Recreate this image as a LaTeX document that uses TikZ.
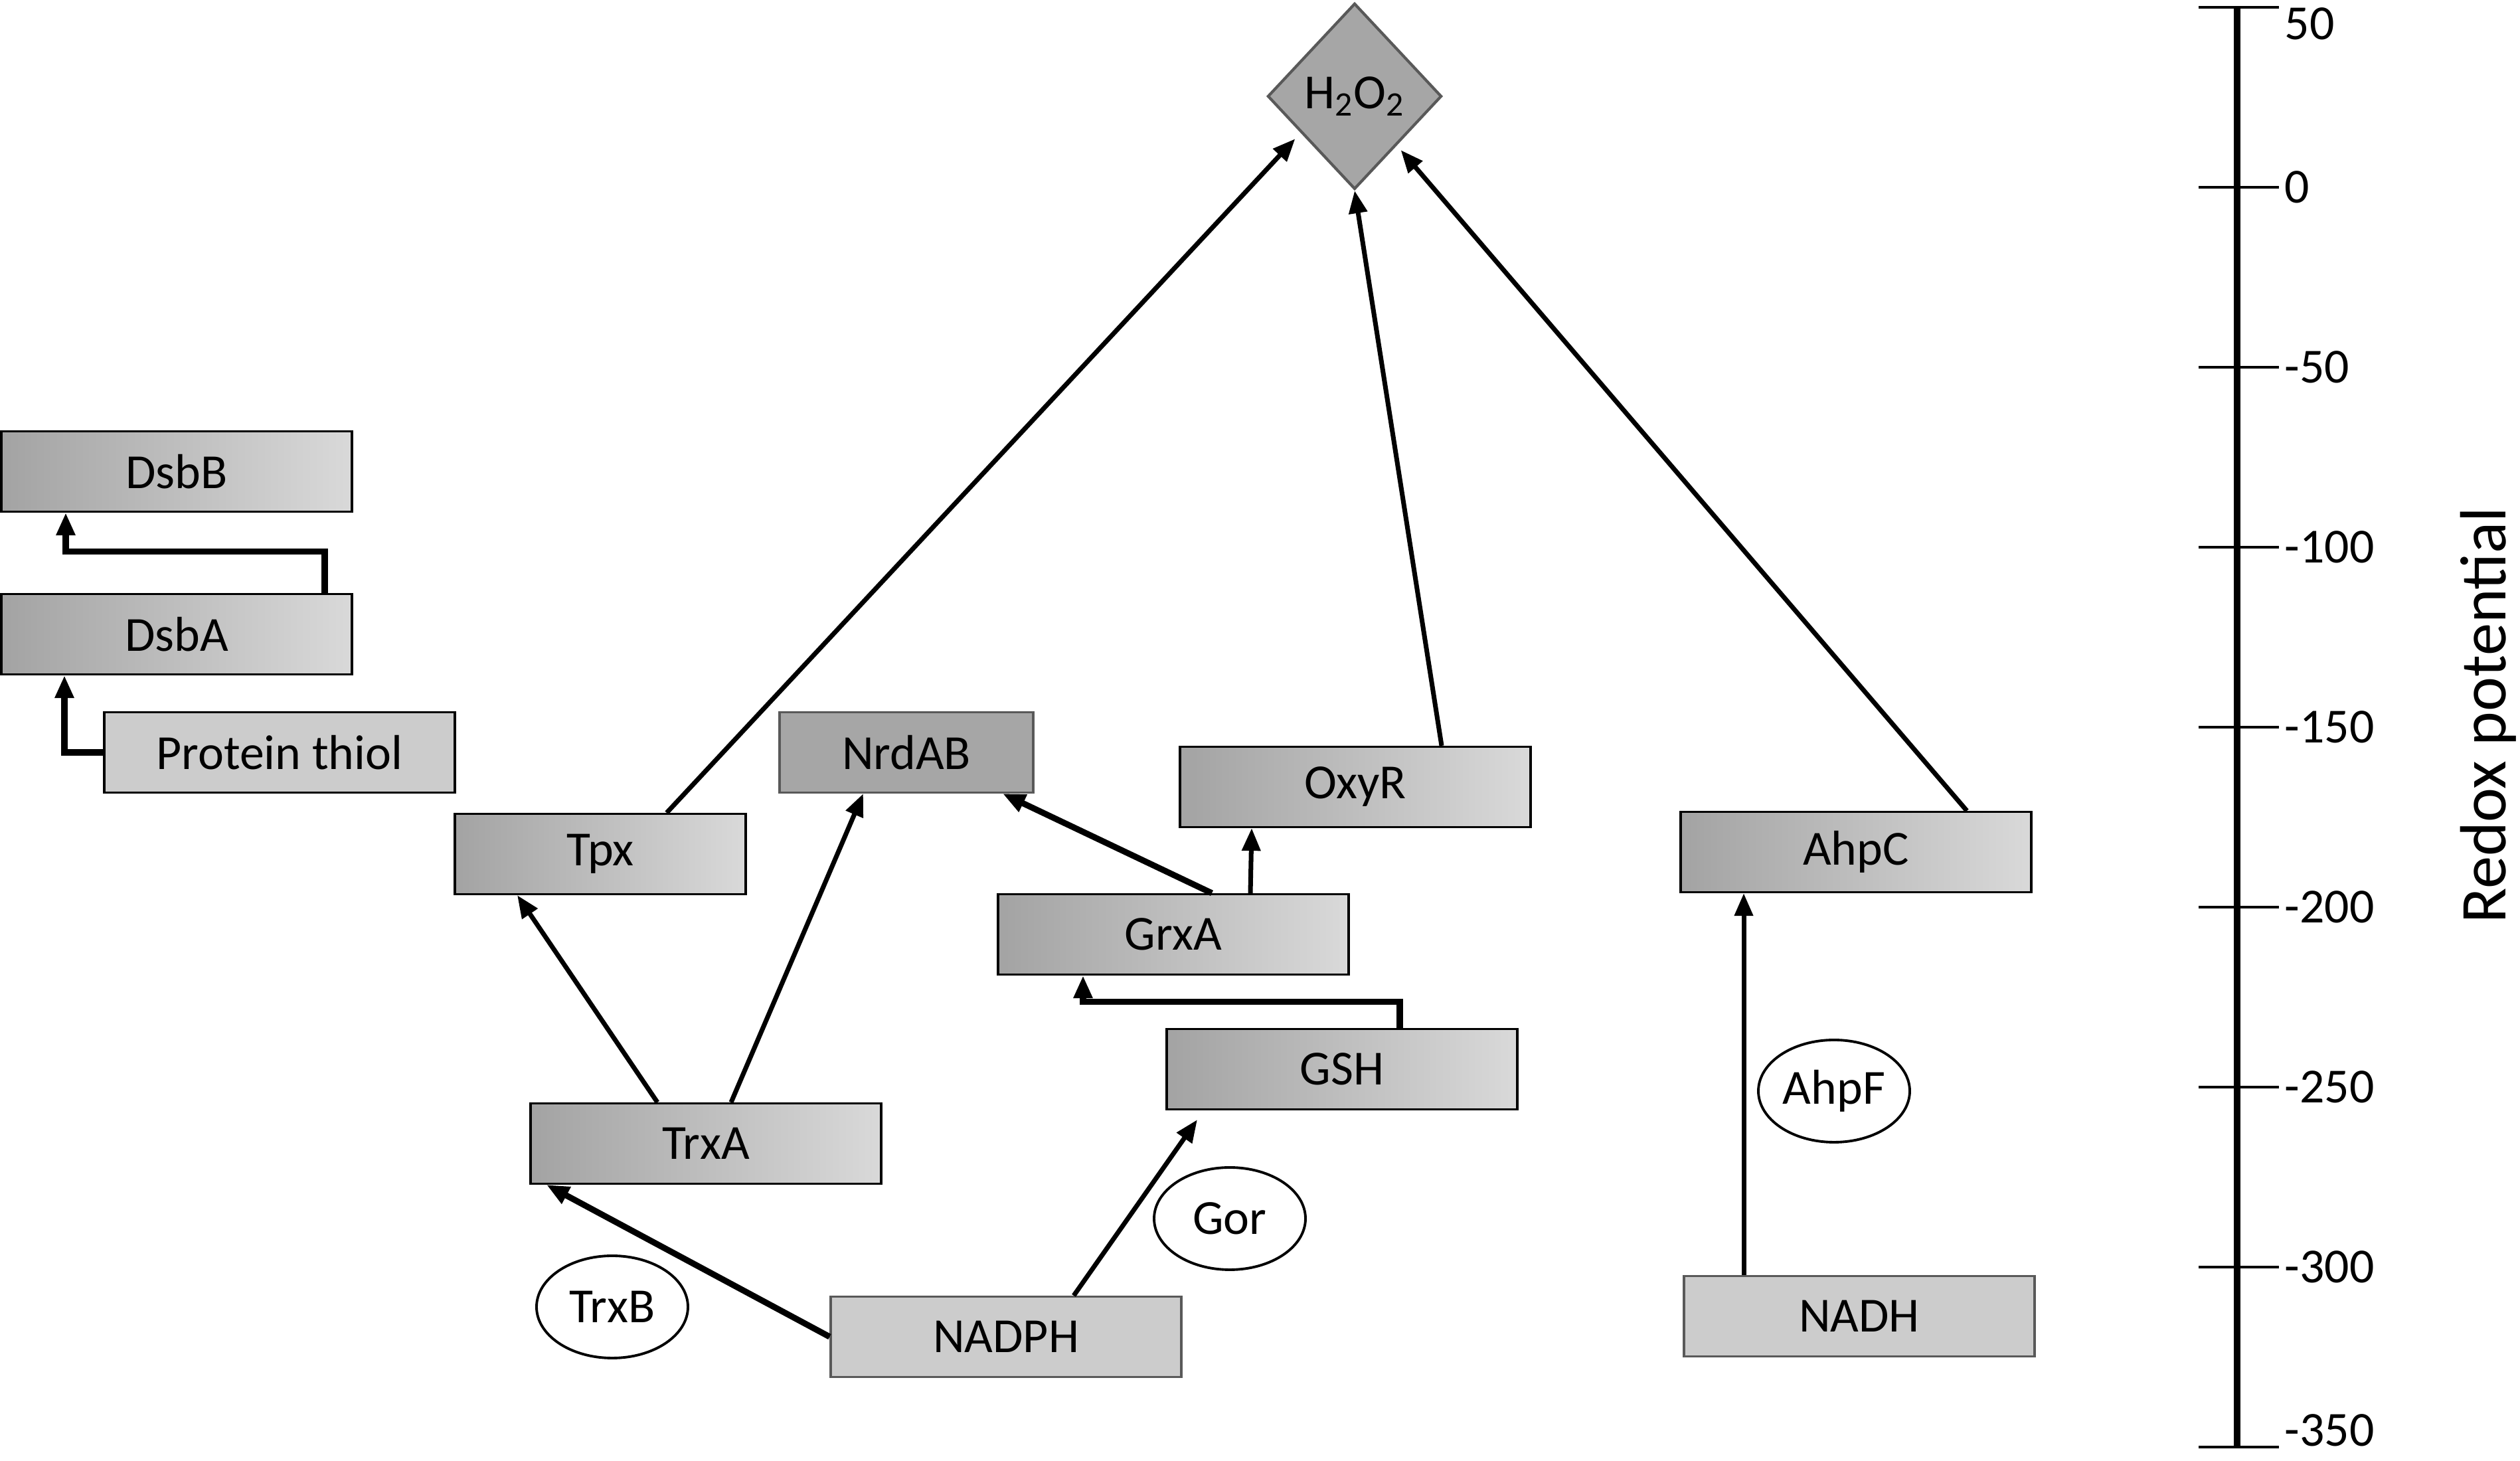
\documentclass[tikz,border=0pt]{standalone}
\usepackage{fontspec}
\setmainfont{Carlito}
\usetikzlibrary{shapes.geometric, arrows.meta}
\definecolor{boxdark}{HTML}{A3A3A3}
\definecolor{boxlight}{HTML}{D9D9D9}
\definecolor{flatgray}{HTML}{CCCCCC}
\definecolor{midgray}{HTML}{A6A6A6}
\definecolor{rimgray}{HTML}{595959}

\begin{document}
\begin{tikzpicture}[
	font=\fontsize{21}{25}\selectfont,
	grad/.style={draw=black, line width=0.9pt, left color=boxdark, right color=boxlight, minimum width=5.28cm, minimum height=1.21cm, inner sep=0pt},
	flat/.style={draw=rimgray, line width=0.9pt, fill=flatgray, minimum width=5.28cm, minimum height=1.21cm, inner sep=0pt},
	enzyme/.style={draw, ellipse, line width=1.1pt, fill=white, minimum width=2.28cm, minimum height=1.54cm, inner sep=0pt},
	arr/.style={line width=2pt, -{Triangle[length=0.34cm, width=0.27cm]}},
	fat/.style={line width=2.6pt, -{Triangle[length=0.34cm, width=0.27cm]}}
	]
	\useasboundingbox (0,0) rectangle (37.95,22);
	
	\node[grad] (dsbb) at (2.66,14.90) {DsbB};
	\node[grad] (dsba) at (2.66,12.45) {DsbA};
	\node[flat, draw=black] (thiol) at (4.21,10.67) {Protein thiol};
	\node[grad, minimum width=4.38cm] (tpx) at (9.04,9.14) {Tpx};
	\node[flat, fill=midgray, minimum width=3.82cm] (nrdab) at (13.65,10.67) {NrdAB};
	\node[grad] (oxyr) at (20.41,10.15) {OxyR};
	\node[grad] (grxa) at (17.67,7.93) {GrxA};
	\node[grad] (gsh) at (20.21,5.90) {GSH};
	\node[grad] (trxa) at (10.63,4.78) {TrxA};
	\node[flat] (nadph) at (15.15,1.87) {NADPH};
	\node[grad] (ahpc) at (27.95,9.17) {AhpC};
	\node[flat] (nadh) at (28.00,2.18) {NADH};
	\node[enzyme] (trxb) at (9.22,2.32) {TrxB};
	\node[enzyme] (gor) at (18.52,3.65) {Gor};
	\node[enzyme] (ahpf) at (27.62,5.57) {AhpF};
	\node[diamond, draw=rimgray, line width=1.2pt, fill=midgray, minimum width=2.62cm, minimum height=2.8cm, inner sep=0pt] (h2o2) at (20.40,20.55) {H\textsubscript{2}O\textsubscript{2}};
	
	% periplasm
	\draw[fat] ([xshift=2.23cm]dsba.north) -- ++(0,0.62) -| ([xshift=-1.67cm]dsbb.south);
	\draw[fat] (thiol.west) -| ([xshift=-1.69cm]dsba.south);
	
	% towards H2O2
	\draw[arr] ([xshift=1.0cm]tpx.north) -- ([shift={(-0.23,0.07)}]h2o2.south west);
	\draw[arr] ([xshift=1.3cm]oxyr.north) -- (h2o2.south);
	\draw[arr] ([xshift=1.67cm]ahpc.north) -- ([shift={(0.03,-0.1)}]h2o2.south east);
	
	\draw[arr] ([xshift=-0.73cm]trxa.north) -- ([xshift=-1.25cm]tpx.south);
	\draw[arr] ([xshift=0.38cm]trxa.north) -- ([xshift=-0.65cm]nrdab.south);
	\draw[fat] ([xshift=0.58cm]grxa.north) -- ([xshift=1.45cm]nrdab.south);
	\draw[arr] ([xshift=1.16cm]grxa.north) -- ([xshift=-1.56cm]oxyr.south);
	\draw[fat] ([xshift=0.87cm]gsh.north) -- ++(0,0.395) -| ([xshift=-1.36cm]grxa.south);
	
	\draw[fat] (nadph.west) -- ([xshift=-2.40cm]trxa.south);
	\draw[arr] ([xshift=1.02cm]nadph.north) -- ([shift={(-2.18,-0.14)}]gsh.south);
	\draw[arr] ([xshift=-1.74cm]nadh.north) -- ([xshift=-1.69cm]ahpc.south);
	
	% redox scale
	\draw[line width=2.8pt] (33.69,21.89) -- (33.69,0.21);
	\foreach \v/\a [count=\i from 0] in {50/north west,0/west,-50/west,-100/west,-150/west,-200/west,-250/west,-300/west,-350/south west} {
		\draw[line width=1.4pt] (33.11,21.89-2.71*\i) -- (34.32,21.89-2.71*\i);
		\node[anchor=\a, inner sep=0pt] (t\i) at (34.40,21.89-2.71*\i) {\v};
	}
	\node[rotate=90, font=\fontsize{28}{32}\selectfont] (axislabel) at (37.47,11.23) {Redox potential};
	
\end{tikzpicture}
\end{document}
